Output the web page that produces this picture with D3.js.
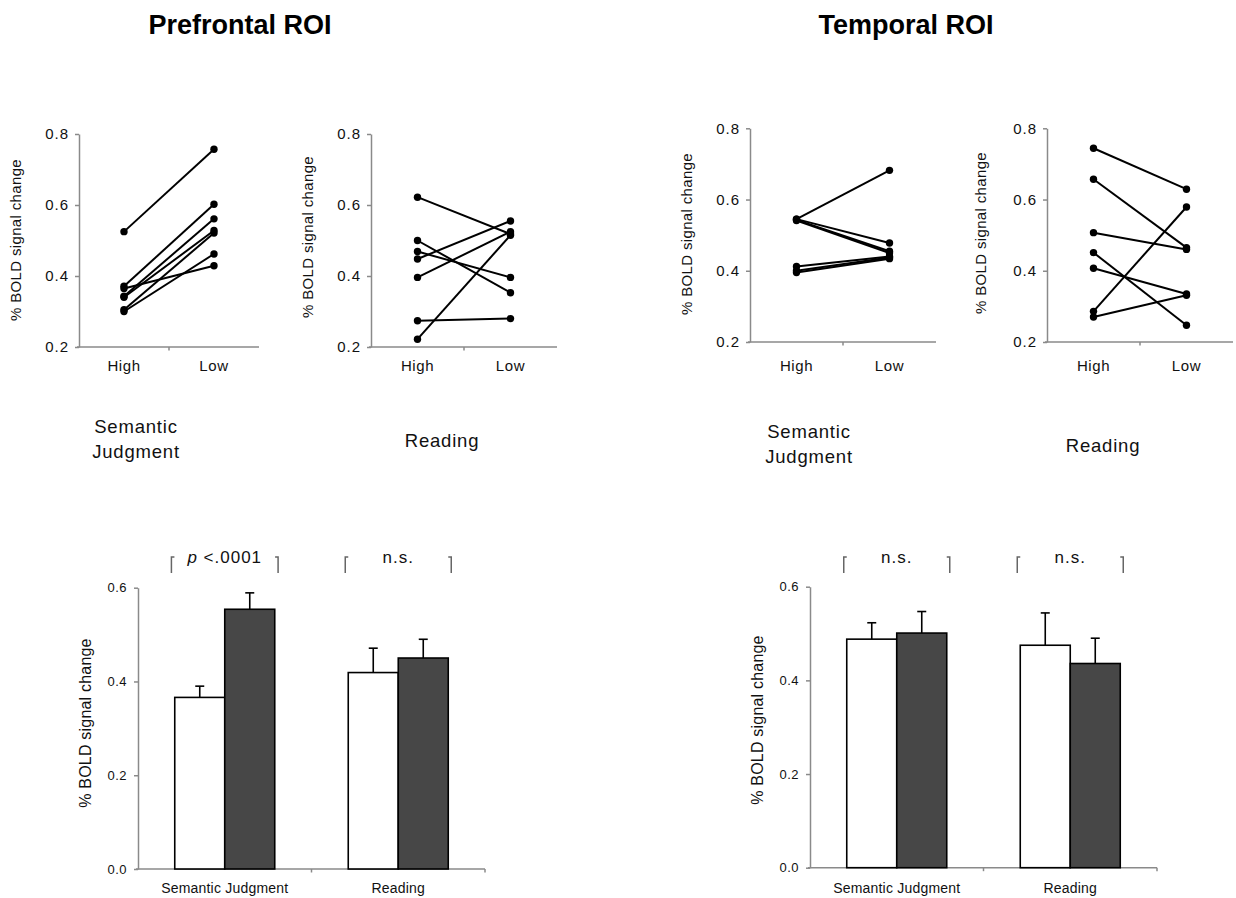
<!DOCTYPE html>
<html><head><meta charset="utf-8">
<script src="https://cdn.jsdelivr.net/npm/d3@7"></script>
<style>
body{margin:0;background:#fff;}
svg{display:block;font-family:"Liberation Sans",Arial,Helvetica,sans-serif;}
</style></head><body>
<svg id="chart" width="1236" height="898"></svg>
<script>
// ---------- data ----------
const conditions = ["High", "Low"];
const tasks = ["Semantic Judgment", "Reading"];
const yTicksLine = [0.2, 0.4, 0.6, 0.8];
const yTicksBar = [0.0, 0.2, 0.4, 0.6];
const roiTitles = ["Prefrontal ROI", "Temporal ROI"];

// individual subjects (High -> Low), Prefrontal ROI
const pfSemHigh  = [0.525, 0.371, 0.365, 0.343, 0.340, 0.305, 0.300];
const pfSemLow   = [0.757, 0.602, 0.429, 0.561, 0.528, 0.521, 0.462];
const pfReadHigh = [0.622, 0.500, 0.469, 0.448, 0.396, 0.274, 0.222];
const pfReadLow  = [0.518, 0.353, 0.396, 0.555, 0.525, 0.280, 0.515];
// individual subjects, Temporal ROI
const tSemHigh  = [0.545, 0.545, 0.543, 0.541, 0.412, 0.400, 0.395];
const tSemLow   = [0.682, 0.478, 0.455, 0.450, 0.440, 0.437, 0.434];
const tReadHigh = [0.744, 0.657, 0.507, 0.451, 0.407, 0.286, 0.270];
const tReadLow  = [0.629, 0.465, 0.460, 0.247, 0.335, 0.579, 0.331];

// group means and SE (per task: Semantic Judgment, Reading)
const pfMeanHigh = [0.366, 0.419];
const pfSeHigh   = [0.024, 0.052];
const pfMeanLow  = [0.554, 0.450];
const pfSeLow    = [0.035, 0.040];
const tMeanHigh  = [0.488, 0.475];
const tSeHigh    = [0.035, 0.069];
const tMeanLow   = [0.501, 0.436];
const tSeLow     = [0.046, 0.054];
const pfSig = ["p <.0001", "n.s."];
const tSig  = ["n.s.", "n.s."];

// ---------- drawing ----------
const svg = d3.select("#chart");
const AXIS = "#8a8a8a";
const INK = "#111";
const DARK = "#474747";

function styleAxis(g, fs, ls) {
  g.select(".domain").attr("stroke", AXIS).attr("stroke-width", 1.5);
  g.selectAll(".tick line").attr("stroke", AXIS).attr("stroke-width", 1.5);
  g.selectAll(".tick text").attr("fill", INK).attr("font-size", fs)
    .attr("letter-spacing", ls).attr("font-family", null);
}

function linePanel(cfg) {
  const x = d3.scaleBand().domain(conditions).range([cfg.x0, cfg.x1]);
  const y = d3.scaleLinear().domain([0.2, 0.8]).range([cfg.yb, cfg.yt]);
  const g = svg.append("g");
  const ya = g.append("g").attr("transform", `translate(${cfg.x0},0)`)
    .call(d3.axisLeft(y).tickValues(yTicksLine).tickFormat(d3.format(".1f"))
      .tickSize(4).tickSizeOuter(0).tickPadding(6));
  styleAxis(ya, 15, 1);
  // x axis: baseline with a single mid tick
  g.append("line").attr("x1", cfg.x0 - 2).attr("x2", cfg.x1)
    .attr("y1", cfg.yb).attr("y2", cfg.yb).attr("stroke", AXIS).attr("stroke-width", 1.5);
  g.append("line").attr("x1", x("Low")).attr("x2", x("Low"))
    .attr("y1", cfg.yb).attr("y2", cfg.yb + 3.5).attr("stroke", AXIS).attr("stroke-width", 1.5);
  g.selectAll(".xl").data(conditions).join("text")
    .attr("x", d => x(d) + x.bandwidth() / 2).attr("y", 371)
    .attr("text-anchor", "middle").attr("font-size", 15).attr("letter-spacing", 0.6)
    .attr("fill", INK).text(d => d);
  // y label
  g.append("text").attr("transform", `translate(${cfg.labelX},${cfg.labelY}) rotate(-90)`)
    .attr("text-anchor", "middle").attr("dy", "0.35em").attr("font-size", 15)
    .attr("letter-spacing", 0.35).attr("fill", INK).text("% BOLD signal change");
  const cx = c => x(c) + x.bandwidth() / 2;
  const pairs = cfg.high.map((h, i) => [[cx("High"), y(h)], [cx("Low"), y(cfg.low[i])]]);
  g.selectAll(".sub").data(pairs).join("path")
    .attr("d", d3.line()).attr("fill", "none").attr("stroke", "#000").attr("stroke-width", 2);
  const pts = pairs.flat();
  g.selectAll(".pt").data(pts).join("circle")
    .attr("cx", d => d[0]).attr("cy", d => d[1]).attr("r", 3.7).attr("fill", "#000");
}

function barPanel(cfg) {
  const x0 = d3.scaleBand().domain(tasks).range([cfg.x0, cfg.x1]);
  const x1 = d3.scaleBand().domain(conditions).range([0, x0.bandwidth()])
    .paddingInner(0).paddingOuter(0.735);
  const y = d3.scaleLinear().domain([0, 0.6]).range([cfg.yb, cfg.yt]);
  const g = svg.append("g");
  const ya = g.append("g").attr("transform", `translate(${cfg.x0},0)`)
    .call(d3.axisLeft(y).tickValues(yTicksBar).tickFormat(d3.format(".1f"))
      .tickSize(4).tickSizeOuter(0).tickPadding(7));
  styleAxis(ya, 13, 0.5);
  g.append("line").attr("x1", cfg.x0 - 2).attr("x2", cfg.x1)
    .attr("y1", cfg.yb).attr("y2", cfg.yb).attr("stroke", AXIS).attr("stroke-width", 1.5);
  [x0("Reading"), cfg.x1].forEach(tx => {
    g.append("line").attr("x1", tx).attr("x2", tx).attr("y1", cfg.yb).attr("y2", cfg.yb + 3.5)
      .attr("stroke", AXIS).attr("stroke-width", 1.5);
  });
  g.selectAll(".xl").data(tasks).join("text")
    .attr("x", d => x0(d) + x0.bandwidth() / 2).attr("y", 893)
    .attr("text-anchor", "middle").attr("font-size", 14).attr("letter-spacing", 0.2)
    .attr("fill", INK).text(d => d);
  g.append("text").attr("transform", `translate(${cfg.labelX},${cfg.labelY}) rotate(-90)`)
    .attr("text-anchor", "middle").attr("dy", "0.35em").attr("font-size", 16)
    .attr("letter-spacing", 0.2).attr("fill", INK).text("% BOLD signal change");

  const rows = [];
  tasks.forEach((t, i) => {
    rows.push({ t, c: "High", v: cfg.high[i], se: cfg.seHigh[i] });
    rows.push({ t, c: "Low", v: cfg.low[i], se: cfg.seLow[i] });
  });
  const bx = d => x0(d.t) + x1(d.c);
  // error bars (upward only)
  g.selectAll(".eb").data(rows).join("line")
    .attr("x1", d => bx(d) + x1.bandwidth() / 2).attr("x2", d => bx(d) + x1.bandwidth() / 2)
    .attr("y1", d => y(d.v)).attr("y2", d => y(d.v + d.se))
    .attr("stroke", "#000").attr("stroke-width", 1.6);
  g.selectAll(".cap").data(rows).join("line")
    .attr("x1", d => bx(d) + x1.bandwidth() / 2 - 4.5).attr("x2", d => bx(d) + x1.bandwidth() / 2 + 4.5)
    .attr("y1", d => y(d.v + d.se)).attr("y2", d => y(d.v + d.se))
    .attr("stroke", "#000").attr("stroke-width", 1.6);
  g.selectAll(".bar").data(rows).join("rect")
    .attr("x", bx).attr("width", x1.bandwidth())
    .attr("y", d => y(d.v)).attr("height", d => y(0) - y(d.v))
    .attr("fill", d => d.c === "High" ? "#fff" : DARK)
    .attr("stroke", "#000").attr("stroke-width", 1.6);

  // significance brackets
  tasks.forEach((t, i) => {
    const gx0 = x0(t) + x1("High"), gx1 = x0(t) + x1("Low") + x1.bandwidth();
    const cxm = (gx0 + gx1) / 2;
    const txt = g.append("text").attr("x", cxm).attr("y", 563).attr("text-anchor", "middle")
      .attr("font-size", 17).attr("letter-spacing", 1).attr("fill", INK);
    const s = cfg.sig[i];
    if (s.startsWith("p ")) {
      txt.append("tspan").attr("font-style", "italic").text("p");
      txt.append("tspan").text(s.slice(1));
    } else txt.text(s);
    const tw = txt.node().getComputedTextLength();
    const half = Math.max((gx1 - gx0) / 2 + 3, tw / 2 + 16);
    const bl = cxm - half, br = cxm + half;
    g.append("path").attr("d", `M${bl + 3},557 H${bl} V573`)
      .attr("fill", "none").attr("stroke", "#666").attr("stroke-width", 1.5);
    g.append("path").attr("d", `M${br - 3},557 H${br} V573`)
      .attr("fill", "none").attr("stroke", "#666").attr("stroke-width", 1.5);
  });
}

// titles
svg.selectAll(".title").data(roiTitles).join("text")
  .attr("x", (d, i) => [240, 906][i]).attr("y", 34).attr("text-anchor", "middle")
  .attr("font-size", 27).attr("font-weight", "bold").attr("fill", "#000").text(d => d);

// line panels
linePanel({ x0: 79, x1: 259, yb: 347, yt: 134, labelX: 16, labelY: 240, high: pfSemHigh, low: pfSemLow });
linePanel({ x0: 371, x1: 557, yb: 347, yt: 134, labelX: 308, labelY: 237, high: pfReadHigh, low: pfReadLow });
linePanel({ x0: 750, x1: 936, yb: 342, yt: 128.3, labelX: 687, labelY: 234, high: tSemHigh, low: tSemLow });
linePanel({ x0: 1047, x1: 1233, yb: 342, yt: 128.3, labelX: 981, labelY: 233, high: tReadHigh, low: tReadLow });

// task subtitles under line panels
function subtitle(lines, cx, y0) {
  const t = svg.append("text").attr("text-anchor", "middle").attr("font-size", 18.5)
    .attr("letter-spacing", 0.8).attr("fill", INK);
  lines.forEach((l, i) => t.append("tspan").attr("x", cx).attr("y", y0 + i * 25).text(l));
}
subtitle(["Semantic", "Judgment"], 136, 433);
subtitle(["Reading"], 442, 447);
subtitle(["Semantic", "Judgment"], 809, 438);
subtitle(["Reading"], 1103, 452);

// bar panels
barPanel({ x0: 138, x1: 485, yb: 869, yt: 587.7, labelX: 85, labelY: 723,
  high: pfMeanHigh, seHigh: pfSeHigh, low: pfMeanLow, seLow: pfSeLow, sig: pfSig });
barPanel({ x0: 810, x1: 1157, yb: 867.7, yt: 586.7, labelX: 757, labelY: 720,
  high: tMeanHigh, seHigh: tSeHigh, low: tMeanLow, seLow: tSeLow, sig: tSig });
</script>
</body></html>
